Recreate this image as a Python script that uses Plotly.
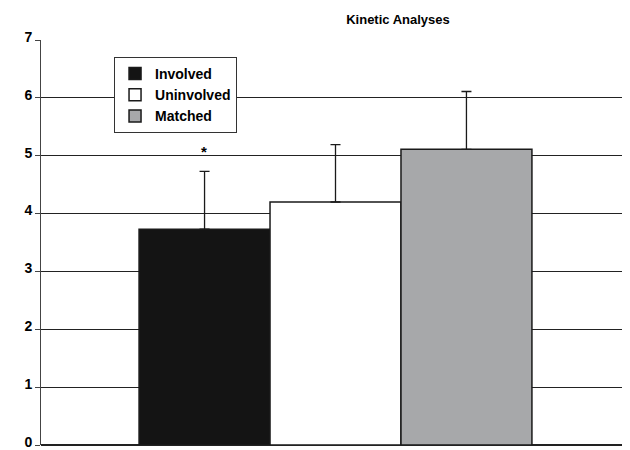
import plotly.graph_objects as go

groups = ["Involved", "Uninvolved", "Matched"]
means = [3.73, 4.2, 5.11]
sds = [1.0, 0.99, 1.0]
colors = ["#141414", "#ffffff", "#a7a8aa"]
y_ticks = [0, 1, 2, 3, 4, 5, 6, 7]

fig = go.Figure()
for name, m, s, c in zip(groups, means, sds, colors):
    fig.add_trace(go.Bar(
        x=[""], y=[m], name=f"<b>{name}</b>",
        marker=dict(color=c, line=dict(color="#1a1a1a", width=1.5)),
        error_y=dict(type="data", array=[s], arrayminus=[0], symmetric=False,
                     color="#1a1a1a", thickness=1.3, width=5),
    ))

# significance marker over the involved bar
fig.add_annotation(x=0.268, xref="paper", y=4.9, yref="y", yanchor="bottom",
                   text="<b>*</b>", showarrow=False, font=dict(size=15, color="black"))

# page body has an 8px margin; the figure runs a little past the window bottom
fig.update_layout(
    width=622, height=460,
    paper_bgcolor="white", plot_bgcolor="white",
    font=dict(family="Liberation Sans, Arial", color="black"),
    title=dict(text="<b>Kinetic Analyses</b>", x=0.627, xanchor="center", y=1 - 11 / 460, yanchor="middle",
               font=dict(size=13)),
    barmode="group", bargap=0.333, bargroupgap=0,
    margin=dict(l=33, r=0, t=32, b=23),
    showlegend=True,
    legend=dict(x=0.124, y=0.958, xanchor="left", yanchor="top",
                bordercolor="#333333", borderwidth=1, bgcolor="white",
                font=dict(size=14), tracegroupgap=0),
    xaxis=dict(showticklabels=False, showgrid=False, ticks=""),
    yaxis=dict(range=[0, 7], tickvals=y_ticks, ticktext=[f"<b>{t}</b>" for t in y_ticks],
               showgrid=True, gridcolor="#222222", gridwidth=1.3,
               showline=True, linecolor="#444444", linewidth=1,
               zeroline=True, zerolinecolor="#222222", zerolinewidth=1.5,
               ticks="outside", ticklen=5, tickcolor="#444444",
               tickfont=dict(size=14), ticklabelshift=-3, automargin=False),
)

fig.write_html("out.html")
